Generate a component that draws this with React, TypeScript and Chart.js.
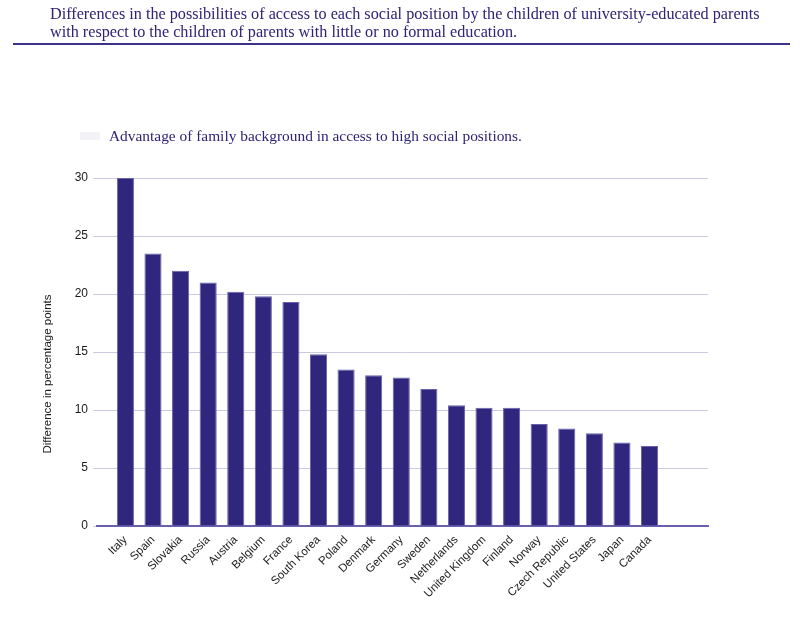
import { useEffect, useRef } from "react";
import { Chart, registerables } from "chart.js";

Chart.register(...registerables);

const countries = [
  "Italy", "Spain", "Slovakia", "Russia", "Austria", "Belgium", "France",
  "South Korea", "Poland", "Denmark", "Germany", "Sweden", "Netherlands",
  "United Kingdom", "Finland", "Norway", "Czech Republic", "United States",
  "Japan", "Canada",
];
const advantage = [
  30, 23.5, 22, 21, 20.2, 19.8, 19.3, 14.8, 13.5, 13.0, 12.8, 11.8, 10.4,
  10.2, 10.2, 8.8, 8.4, 8.0, 7.2, 6.9,
];
const yTicks = [0, 5, 10, 15, 20, 25, 30];

const titleText =
  "Differences in the possibilities of access to each social position by the children of university-educated parents with respect to the children of parents with little or no formal education.";
const legendText = "Advantage of family background in access to high social positions.";
const yTitle = "Difference in percentage points";

const purple = "#31267e";

export default function App() {
  const ctx = useRef<HTMLCanvasElement | null>(null);

  useEffect(() => {
    if (!ctx.current) return;

    // y title drawn a bit below the chart-area centre, as in the original
    const yTitlePlugin = {
      id: "yTitle",
      afterDraw(chart: any) {
        const c = chart.ctx;
        c.save();
        c.translate(48, 374);
        c.rotate(-Math.PI / 2);
        c.font = "11.5px 'Liberation Sans', Arial, sans-serif";
        c.fillStyle = "#1a1a1a";
        c.textAlign = "center";
        c.textBaseline = "middle";
        c.fillText(yTitle, 0, 0);
        c.restore();
      },
    };

    const chart = new Chart(ctx.current, {
      type: "bar",
      data: {
        datasets: [
          {
            label: legendText,
            data: advantage.map((v, i) => ({ x: i, y: v })),
            backgroundColor: purple,
            borderColor: "#6a61aa",
            borderWidth: 1,
            borderSkipped: "bottom",
            barPercentage: 0.62,
            categoryPercentage: 1,
          },
        ],
      },
      options: {
        animation: false,
        responsive: false,
        layout: { padding: { left: 0, right: 92, top: 178, bottom: 14 } },
        plugins: {
          legend: { display: false },
          tooltip: { enabled: false },
        },
        scales: {
          x: {
            type: "linear",
            offset: false,
            min: -1.03,
            max: 21.12,
            afterBuildTicks: (s: any) => {
              s.ticks = countries.map((_, i) => ({ value: i }));
            },
            afterFit: (s: any) => {
              s.height = 80;
            },
            grid: { display: false, drawTicks: false, offset: false },
            border: { display: true, color: "#6a60b0", width: 2 },
            ticks: {
              autoSkip: false,
              minRotation: 45,
              maxRotation: 45,
              padding: 7,
              color: "#1a1a1a",
              font: { family: "'Liberation Sans', Arial, sans-serif", size: 11.5 },
              callback: (v: any) => countries[v] ?? "",
            },
          },
          y: {
            min: 0,
            max: 30,
            afterBuildTicks: (s: any) => {
              s.ticks = yTicks.map((v) => ({ value: v }));
            },
            afterFit: (s: any) => {
              s.width = 97;
            },
            grid: { color: "#cdc9e3", lineWidth: 1, tickLength: 4 },
            border: { display: false },
            ticks: {
              padding: 5,
              color: "#1a1a1a",
              font: { family: "'Liberation Sans', Arial, sans-serif", size: 12 },
            },
          },
        },
      },
      plugins: [yTitlePlugin],
    });

    return () => {
      chart.destroy();
    };
  }, []);

  return (
    <div
      style={{
        position: "absolute",
        left: 0,
        top: 0,
        width: 800,
        height: 620,
        background: "#fff",
        overflow: "hidden",
      }}
    >
      <canvas
        ref={ctx}
        width={800}
        height={620}
        style={{ position: "absolute", left: 0, top: 0, width: 800, height: 620 }}
      />
      <div
        style={{
          position: "absolute",
          left: 50,
          top: 5,
          width: 725,
          fontFamily: "'Liberation Serif', 'Times New Roman', serif",
          fontSize: 16.2,
          lineHeight: "18px",
          color: "#2e2377",
        }}
      >
        {titleText}
      </div>
      <div
        style={{
          position: "absolute",
          left: 13,
          top: 43,
          width: 777,
          height: 2,
          background: "#3b3186",
        }}
      />
      <div
        style={{
          position: "absolute",
          left: 80,
          top: 132,
          width: 20,
          height: 8,
          background: "#f3f3f6",
        }}
      />
      <div
        style={{
          position: "absolute",
          left: 109,
          top: 126,
          whiteSpace: "nowrap",
          fontFamily: "'Liberation Serif', 'Times New Roman', serif",
          fontSize: 15.4,
          lineHeight: "19px",
          color: "#2e2377",
        }}
      >
        {legendText}
      </div>
    </div>
  );
}
